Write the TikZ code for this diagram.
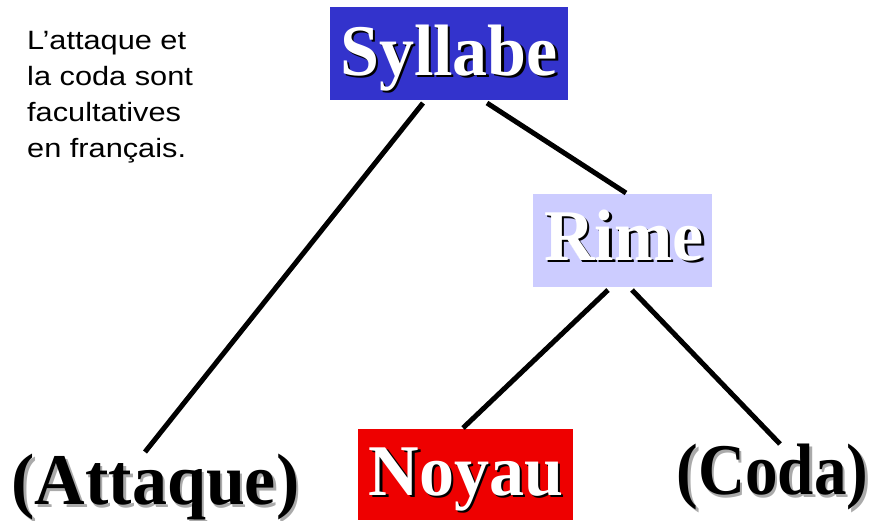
\documentclass[tikz,border=0pt]{standalone}
\usepackage{fontspec}
\setmainfont{Liberation Serif}
\newfontfamily\notefont{Liberation Sans}
\definecolor{sylblue}{RGB}{51,51,204}
\definecolor{rimelav}{RGB}{204,204,255}
\definecolor{noyred}{RGB}{238,0,0}
\definecolor{shadgray}{RGB}{170,170,170}
\tikzset{
  big/.style={font=\fontsize{70}{72}\selectfont\bfseries, inner sep=0pt, anchor=base},
  note/.style={font=\notefont\fontsize{26.5}{30}\selectfont, inner sep=0pt, anchor=base west},
  branch/.style={line width=5pt, line cap=butt},
}
\newcommand{\tallbox}[1]{\scalebox{1}[1.04]{#1}}
\newcommand{\codabox}[1]{\scalebox{0.93}[1.04]{#1}}
\newcommand{\widebox}[1]{\scalebox{1.16}[1]{#1}}
\begin{document}
\begin{tikzpicture}[x=1pt,y=-1pt]
\useasboundingbox (0,0) rectangle (883,520);
% boxes
\fill[sylblue] (330,7) rectangle (568,100);
\fill[rimelav] (533,194) rectangle (712,287);
\fill[noyred] (358,429) rectangle (573,520);
% labels with shadows
\node[big, text=black] (sylS) at (451.5,77.5) {\tallbox{Syllabe}};
\node[big, text=white] (syl) at (449,75) {\tallbox{Syllabe}};
\node[big, text=black] (rimeS) at (626.5,262.5) {\tallbox{Rime}};
\node[big, text=white] (rime) at (624,260) {\tallbox{Rime}};
\node[big, text=black] (noyS) at (468.5,497.5) {\tallbox{Noyau}};
\node[big, text=white] (noy) at (466,495) {\tallbox{Noyau}};
\node[big, text=shadgray] (attS) at (158,507) {\tallbox{(Attaque)}};
\node[big, text=black] (att) at (155.5,504.5) {\tallbox{(Attaque)}};
\node[big, text=shadgray] (codaS) at (775,497) {\codabox{(Coda)}};
\node[big, text=black] (coda) at (772.5,494.5) {\codabox{(Coda)}};
% note
\node[note] (note1) at (27,49) {\widebox{L’attaque et}};
\node[note] (note2) at (27,85) {\widebox{la coda sont}};
\node[note] (note3) at (27,121) {\widebox{facultatives}};
\node[note] (note4) at (27,157) {\widebox{en français.}};
% connector end points
\coordinate (s1) at (423,103);
\coordinate (a1) at (145,452);
\coordinate (s2) at (487,103);
\coordinate (r1) at (626,193);
\coordinate (r2) at (608,290);
\coordinate (n1) at (463,428);
\coordinate (r3) at (632,290);
\coordinate (c1) at (780,444);
\draw[branch] (s1) -- (a1);
\draw[branch] (s2) -- (r1);
\draw[branch] (r2) -- (n1);
\draw[branch] (r3) -- (c1);
\end{tikzpicture}
\end{document}
